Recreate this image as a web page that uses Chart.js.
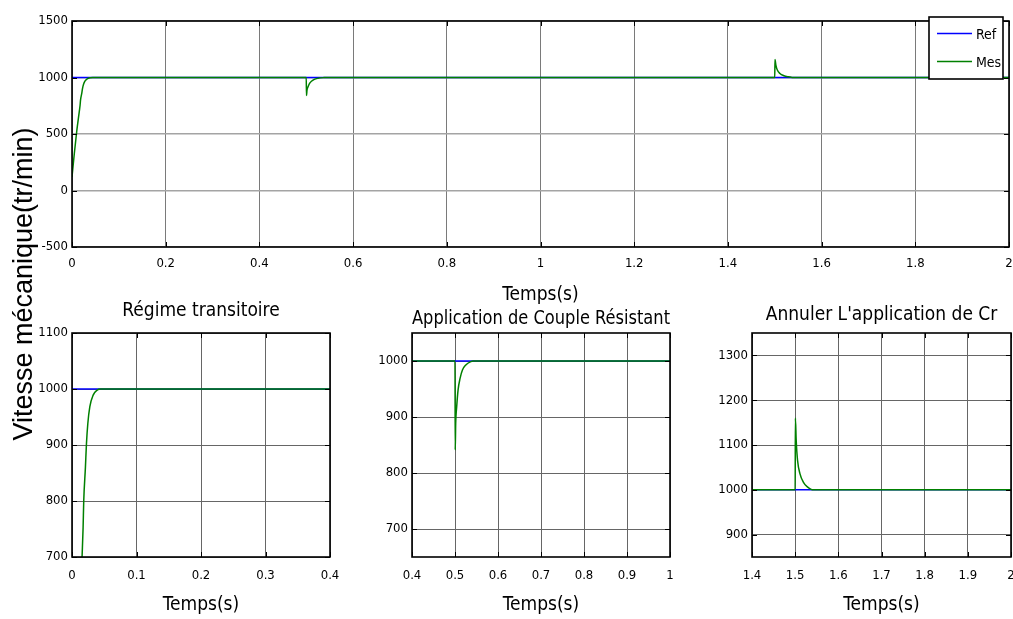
<!DOCTYPE html>
<html>
<head>
<meta charset="utf-8">
<script src="https://cdn.jsdelivr.net/npm/chart.js@4.4.1/dist/chart.umd.min.js"></script>
<style>
  html, body { margin: 0; padding: 0; background: #ffffff; }
  #figure { position: relative; width: 1013px; height: 619px; overflow: hidden; background: #ffffff; }
  #figure canvas { position: absolute; left: 0; top: 0; }
</style>
</head>
<body>
<div id="figure">
  <canvas id="speedFull" width="1013" height="619"></canvas>
  <canvas id="speedStart" width="1013" height="619"></canvas>
  <canvas id="speedLoad" width="1013" height="619"></canvas>
  <canvas id="speedUnload" width="1013" height="619"></canvas>
</div>
<script>
// Speed reference and measured speed (tr/min) versus time (s)
const timeRef  = [0, 2];
const speedRef = [1000, 1000];

const timeMes  = [0, 0.005, 0.010, 0.0156, 0.0172, 0.0182, 0.0208, 0.0224, 0.0245, 0.0276, 0.0328, 0.039, 0.0443,
                  0.5, 0.5005, 0.5016, 0.5039, 0.5071, 0.5118, 0.5173, 0.5251, 0.5369, 0.542,
                  1.5, 1.5005, 1.5024, 1.5055, 1.511, 1.5196, 1.529, 1.537, 1.542,
                  2];
const speedMes = [120, 330, 520, 700, 752, 800, 860, 902, 938, 968, 989, 998, 1000,
                  1000, 841, 888, 918, 948, 969, 984, 993, 999, 1000,
                  1000, 1160, 1110, 1066, 1036, 1016, 1006, 1001, 1000,
                  1000];

const seriesNames = ['Ref', 'Mes'];

// Tick positions of each panel
const fullTimeTicks   = [0, 0.2, 0.4, 0.6, 0.8, 1, 1.2, 1.4, 1.6, 1.8, 2];
const fullSpeedTicks  = [-500, 0, 500, 1000, 1500];
const startTimeTicks  = [0, 0.1, 0.2, 0.3, 0.4];
const startSpeedTicks = [700, 800, 900, 1000, 1100];
const loadTimeTicks   = [0.4, 0.5, 0.6, 0.7, 0.8, 0.9, 1];
const loadSpeedTicks  = [700, 800, 900, 1000];
const unloadTimeTicks = [1.4, 1.5, 1.6, 1.7, 1.8, 1.9, 2];
const unloadSpeedTicks = [900, 1000, 1100, 1200, 1300];

const panelTitles = ['Régime transitoire', 'Application de Couple Résistant', "Annuler L'application de Cr"];
const timeLabel  = 'Temps(s)';
const speedLabel = 'Vitesse mécanique(tr/min)';

const NARROW = "'Liberation Sans Narrow', 'Arial Narrow', 'DejaVu Sans Condensed', sans-serif";
const W = 1013, H = 619;
const Y_AXIS_W = 60;
const X_AXIS_H = 59.4;
const TITLE_SIZE = 19;
const TICK_SIZE = 13;

const pairs = (xs, ys) => xs.map((x, i) => ({ x: x, y: ys[i] }));
const fmtTime = v => String(Number(Number(v).toFixed(2)));

function makeDatasets() {
  return [
    { label: seriesNames[0], data: pairs(timeRef, speedRef), borderColor: '#0000ff', borderWidth: 1.6,
      pointRadius: 0, order: 1 },
    { label: seriesNames[1], data: pairs(timeMes, speedMes), borderColor: '#008000', borderWidth: 1.5,
      pointRadius: 0, cubicInterpolationMode: 'monotone', order: 0 }
  ];
}

// Box around the plot area with inward tick marks on all four sides
const framePlugin = {
  id: 'frame',
  afterDatasetsDraw(chart) {
    const { ctx, chartArea: a, scales } = chart;
    ctx.save();
    ctx.strokeStyle = '#000';
    ctx.lineWidth = 1;
    ctx.beginPath();
    scales.x.ticks.forEach(t => {
      const px = Math.round(scales.x.getPixelForValue(t.value)) + 0.5;
      ctx.moveTo(px, a.top); ctx.lineTo(px, a.top + 5);
      ctx.moveTo(px, a.bottom); ctx.lineTo(px, a.bottom - 5);
    });
    scales.y.ticks.forEach(t => {
      const py = Math.round(scales.y.getPixelForValue(t.value)) + 0.5;
      ctx.moveTo(a.left, py); ctx.lineTo(a.left + 5, py);
      ctx.moveTo(a.right, py); ctx.lineTo(a.right - 5, py);
    });
    ctx.stroke();
    ctx.lineWidth = 1.6;
    ctx.strokeRect(a.left, a.top, a.right - a.left, a.bottom - a.top);
    ctx.restore();
  }
};

// Legend box in the top-right corner of the full-run panel
const legendBoxPlugin = {
  id: 'legendBox',
  afterDraw(chart) {
    const { ctx, chartArea: a } = chart;
    const right = a.right - 6, top = a.top - 4, w = 74, h = 62;
    const left = right - w;
    ctx.save();
    ctx.fillStyle = '#fff';
    ctx.fillRect(left, top, w, h);
    ctx.strokeStyle = '#000';
    ctx.lineWidth = 1.6;
    ctx.strokeRect(left, top, w, h);
    ctx.font = '14px ' + NARROW;
    ctx.textBaseline = 'middle';
    ctx.textAlign = 'left';
    chart.data.datasets.forEach((ds, i) => {
      const y = top + 16 + i * 28;
      ctx.strokeStyle = ds.borderColor;
      ctx.lineWidth = 1.5;
      ctx.beginPath();
      ctx.moveTo(left + 8, y + 0.5); ctx.lineTo(left + 43, y + 0.5);
      ctx.stroke();
      ctx.fillStyle = '#000';
      ctx.fillText(ds.label, left + 47, y + 2);
    });
    ctx.restore();
  }
};

// Figure-wide vertical axis label
const speedLabelPlugin = {
  id: 'speedLabel',
  afterDraw(chart) {
    const ctx = chart.ctx;
    ctx.save();
    ctx.translate(32, 284);
    ctx.rotate(-Math.PI / 2);
    ctx.font = "27px 'Liberation Sans', Arial, sans-serif";
    ctx.fillStyle = '#000';
    ctx.textAlign = 'center';
    ctx.textBaseline = 'alphabetic';
    ctx.fillText(speedLabel, 0, 0);
    ctx.restore();
  }
};

function xAxis(min, max, ticks, pad, gridColor) {
  return {
    type: 'linear', min: min, max: max,
    afterBuildTicks: s => { s.ticks = ticks.map(v => ({ value: v })); },
    afterFit: s => { s.height = X_AXIS_H; s.paddingLeft = 0; s.paddingRight = 0; },
    ticks: { padding: pad, autoSkip: false, maxRotation: 0, color: '#000',
             font: { family: NARROW, size: TICK_SIZE }, callback: v => fmtTime(v) },
    grid: { color: gridColor, lineWidth: 1, drawTicks: false },
    border: { display: false },
    title: { display: true, text: timeLabel, color: '#000', padding: 0,
             font: { family: NARROW, size: TITLE_SIZE } }
  };
}

function yAxis(min, max, ticks, gridColor, gridWidth) {
  return {
    type: 'linear', min: min, max: max,
    afterBuildTicks: s => { s.ticks = ticks.map(v => ({ value: v })); },
    afterFit: s => { s.width = Y_AXIS_W; s.paddingTop = 0; s.paddingBottom = 0; },
    ticks: { padding: 4, autoSkip: false, color: '#000',
             font: { family: NARROW, size: TICK_SIZE }, callback: v => String(v) },
    grid: { color: gridColor, lineWidth: gridWidth, drawTicks: false },
    border: { display: false }
  };
}

// area: plot rectangle {l, r, t, b}; title: {text, center} with center the title's vertical middle
function makePanel(canvasId, area, xs, ys, xPad, title, extraPlugins, gridX, gridY, gridYW) {
  const lh = TITLE_SIZE * 1.2;
  const gap = title ? area.t - lh / 2 - title.center : 0;
  const topPad = title ? area.t - lh - gap : area.t;
  return new Chart(document.getElementById(canvasId), {
    type: 'line',
    data: { datasets: makeDatasets() },
    options: {
      responsive: false,
      animation: false,
      events: [],
      layout: { padding: { left: area.l - Y_AXIS_W, right: W - area.r, top: topPad, bottom: H - area.b - X_AXIS_H } },
      scales: { x: xAxis(xs.min, xs.max, xs.ticks, xPad, gridX), y: yAxis(ys.min, ys.max, ys.ticks, gridY, gridYW) },
      plugins: {
        legend: { display: false },
        tooltip: { enabled: false },
        title: title ? { display: true, text: title.text, color: '#000', fullSize: false,
                         padding: { top: 0, bottom: gap },
                         font: { family: NARROW, size: TITLE_SIZE, weight: 'normal' } } : { display: false }
      }
    },
    plugins: [framePlugin].concat(extraPlugins)
  });
}

makePanel('speedFull', { l: 72, r: 1009, t: 21, b: 247 },
  { min: 0, max: 2, ticks: fullTimeTicks }, { min: -500, max: 1500, ticks: fullSpeedTicks },
  9, null, [legendBoxPlugin, speedLabelPlugin], '#7a7a7a', '#a4a4a4', 1.5);

makePanel('speedStart', { l: 72, r: 330, t: 333, b: 557 },
  { min: 0, max: 0.4, ticks: startTimeTicks }, { min: 700, max: 1100, ticks: startSpeedTicks },
  11, { text: panelTitles[0], center: 311 }, [], '#666', '#666', 1);

makePanel('speedLoad', { l: 412, r: 670, t: 333, b: 557 },
  { min: 0.4, max: 1, ticks: loadTimeTicks }, { min: 650, max: 1050, ticks: loadSpeedTicks },
  11, { text: panelTitles[1], center: 319 }, [], '#666', '#666', 1);

makePanel('speedUnload', { l: 752, r: 1011, t: 333, b: 557 },
  { min: 1.4, max: 2, ticks: unloadTimeTicks }, { min: 850, max: 1350, ticks: unloadSpeedTicks },
  11, { text: panelTitles[2], center: 315 }, [], '#666', '#666', 1);
</script>
</body>
</html>
